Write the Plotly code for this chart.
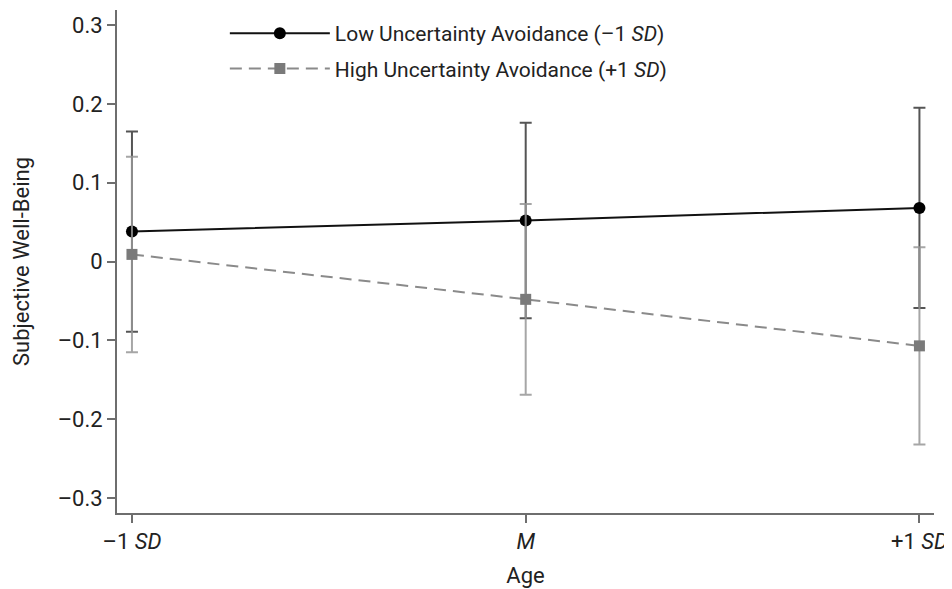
import plotly.graph_objects as go

x_pos = [-1, 0, 1]
x_labels = ["–1 <i>SD</i>", "<i>M</i>", "+1 <i>SD</i>"]

low_y = [0.038, 0.052, 0.068]
low_err = [0.127, 0.124, 0.127]
high_y = [0.009, -0.048, -0.107]
high_err = [0.124, 0.121, 0.125]

y_ticks = [-0.3, -0.2, -0.1, 0, 0.1, 0.2, 0.3]
y_labels = ["–0.3", "–0.2", "–0.1", "0", "0.1", "0.2", "0.3"]

FONT = "Roboto, Liberation Sans, sans-serif"

fig = go.Figure()
fig.add_trace(go.Scatter(
    x=x_pos, y=low_y, mode="lines+markers",
    name="Low Uncertainty Avoidance (–1 <i>SD</i>)",
    legendgroup="low",
    line=dict(color="#111111", width=2),
    marker=dict(symbol="circle", size=12, color="#000000"),
    error_y=dict(type="data", array=low_err, color="#555555", thickness=2, width=6),
))
fig.add_trace(go.Scatter(
    x=x_pos, y=high_y, mode="lines+markers",
    name="High Uncertainty Avoidance (+1 <i>SD</i>)",
    legendgroup="high",
    line=dict(color="#8a8a8a", width=2, dash="12px,7px"),
    marker=dict(symbol="square", size=11, color="#7a7a7a"),
    error_y=dict(type="data", array=high_err, color="rgba(150,150,150,0.85)", thickness=2, width=6),
))

fig.update_layout(
    width=944, height=581,
    paper_bgcolor="white", plot_bgcolor="white",
    margin=dict(l=109, r=18, t=2, b=76, autoexpand=False),
    font=dict(family=FONT, size=22, color="#222222"),
    showlegend=True,
    legend=dict(
        x=0.132, y=0.994, xanchor="left", yanchor="top",
        bgcolor="rgba(0,0,0,0)", font=dict(size=21, family=FONT),
        tracegroupgap=5, itemwidth=100,
    ),
    xaxis=dict(
        range=[-1.038, 1.037], tickvals=x_pos, ticktext=x_labels,
        showgrid=False, zeroline=False, showline=True, linecolor="#6e6e6e", linewidth=2,
        ticks="outside", ticklen=8, tickwidth=2, tickcolor="#6e6e6e",
        title=dict(text="Age", font=dict(size=22), standoff=14),
        tickfont=dict(size=22), automargin=False,
    ),
    yaxis=dict(
        range=[-0.319, 0.319], tickvals=y_ticks, ticktext=y_labels,
        showgrid=False, zeroline=False, showline=True, linecolor="#6e6e6e", linewidth=2,
        ticks="outside", ticklen=8, tickwidth=2, tickcolor="#6e6e6e",
        title=dict(text="Subjective Well-Being", font=dict(size=22), standoff=22),
        tickfont=dict(size=22), automargin=False,
    ),
)

fig.write_html("out.html")
